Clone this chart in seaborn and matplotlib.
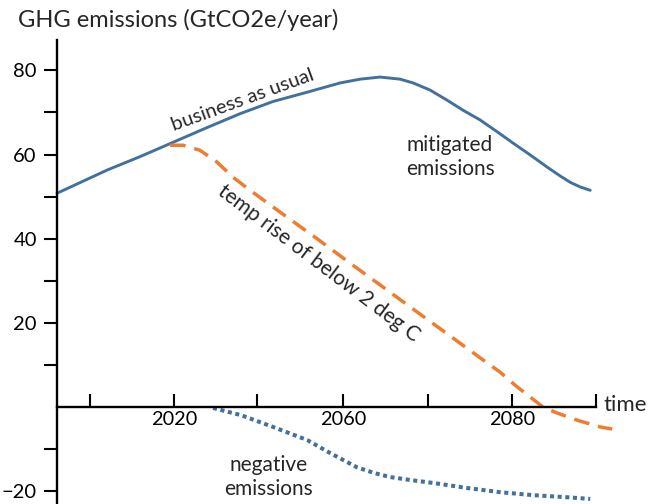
import matplotlib

matplotlib.use("Agg")

import matplotlib.pyplot as plt
import seaborn as sns


# x is in "tick units" (10 units per tick step), y in GtCO2e/year
bau_x = [0, 5.92, 9.82, 13.73, 17.75, 21.66, 25.56, 29.59, 33.49, 35.86, 38.22, 40.59, 42.13,
         44.14, 46.15, 48.05, 50.06, 52.07, 53.96, 55.98, 57.99, 59.53, 60.71, 61.89, 63.08]
bau_y = [50.8, 56.3, 59.5, 62.9, 66.4, 69.7, 72.6, 74.8, 77.0, 77.9, 78.4, 77.9, 77.0,
         75.3, 72.9, 70.5, 68.2, 65.4, 62.7, 59.9, 57.0, 54.9, 53.4, 52.3, 51.5]

two_deg_x = [13.37, 14.91, 16.92, 18.93, 20.83, 22.84, 26.75, 30.77, 34.67, 38.58, 42.6,
             46.51, 50.41, 52.43, 54.2, 55.98, 57.51, 59.17, 61.54, 64.26, 65.68]
two_deg_y = [62.2, 62.2, 61.0, 58.2, 54.6, 51.5, 45.8, 40.0, 34.2, 28.5, 22.6,
             16.9, 11.2, 8.3, 5.2, 2.4, 0.0, -1.4, -3.1, -4.7, -5.2]

neg_x = [18.46, 21.77, 25.56, 29.59, 32.31, 35.5, 37.63, 39.41, 41.78, 44.5, 48.52,
         52.43, 56.33, 60.36, 63.08]
neg_y = [-0.2, -1.9, -4.7, -7.8, -10.9, -14.3, -15.7, -16.6, -17.3, -18.0, -19.2,
         -20.2, -20.9, -21.4, -21.8]

x_ticks = [3.9, 13.8, 23.7, 33.8, 43.9, 53.8, 63.8]
x_tick_labels = ["", "2020", "", "2060", "", "2080", ""]
y_major = [80, 60, 40, 20, -20]
y_minor = [70, 50, 30, 10, -10]

BLUE = "#41719c"
ORANGE = "#ed7d31"

sns.set_theme(style="white")
plt.rcParams["font.family"] = ["Lato", "DejaVu Sans"]

fig = plt.figure(figsize=(6.55, 5.04), dpi=100)
ax = fig.add_axes([57 / 655, 0, (620 - 57) / 655, (504 - 40) / 504])

sns.lineplot(x=bau_x, y=bau_y, ax=ax, color=BLUE, linewidth=2.1, sort=False)
sns.lineplot(x=two_deg_x, y=two_deg_y, ax=ax, color=ORANGE, linewidth=2.5, sort=False)
ax.lines[-1].set_dashes((4.5, 2.6))
sns.lineplot(x=neg_x, y=neg_y, ax=ax, color=BLUE, linewidth=2.9, sort=False)
ax.lines[-1].set_dashes((1, 0.9))
for line in ax.lines:
    line.set_clip_on(False)
    line.set_solid_joinstyle("round")

ax.set_xlim(0, 66.6)
ax.set_ylim(-23.0, 87.2)

ax.spines["top"].set_visible(False)
ax.spines["right"].set_visible(False)
ax.spines["bottom"].set_position(("data", 0))
ax.spines["bottom"].set_bounds(0, 63.8)
for side in ["left", "bottom"]:
    ax.spines[side].set_color("black")
    ax.spines[side].set_linewidth(1.7)

ax.set_xticks(x_ticks)
ax.set_xticklabels(x_tick_labels)
ax.set_yticks(y_major)
ax.set_yticks(y_minor, minor=True)
ax.tick_params(axis="x", direction="in", length=9.5, width=1.5, colors="black",
               labelsize=14.3, pad=3, bottom=True)
ax.tick_params(axis="y", which="both", direction="out", length=9.5, width=1.5,
               colors="black", labelsize=14.5, pad=5, left=True)
ax.set_xlabel("")
ax.set_ylabel("")

ax.text(22.0, 72.9, "business as usual", rotation=20, fontsize=14.5,
        ha="center", va="center", rotation_mode="anchor")
ax.text(31.0, 34.2, "temp rise of below 2 deg C", rotation=-37, fontsize=15,
        ha="center", va="center", rotation_mode="anchor")
ax.text(46.5, 59.4, "mitigated\nemissions", fontsize=15, ha="center", va="center",
        linespacing=1.25)
ax.text(25.0, -16.6, "negative\nemissions", fontsize=15, ha="center", va="center",
        linespacing=1.25)
ax.text(64.6, 0.5, "time", fontsize=16, ha="left", va="center", clip_on=False)

fig.text(18 / 655, 1 - 20 / 504, "GHG emissions (GtCO2e/year)", fontsize=17,
         ha="left", va="center")

fig.savefig("out.png", dpi=100)
